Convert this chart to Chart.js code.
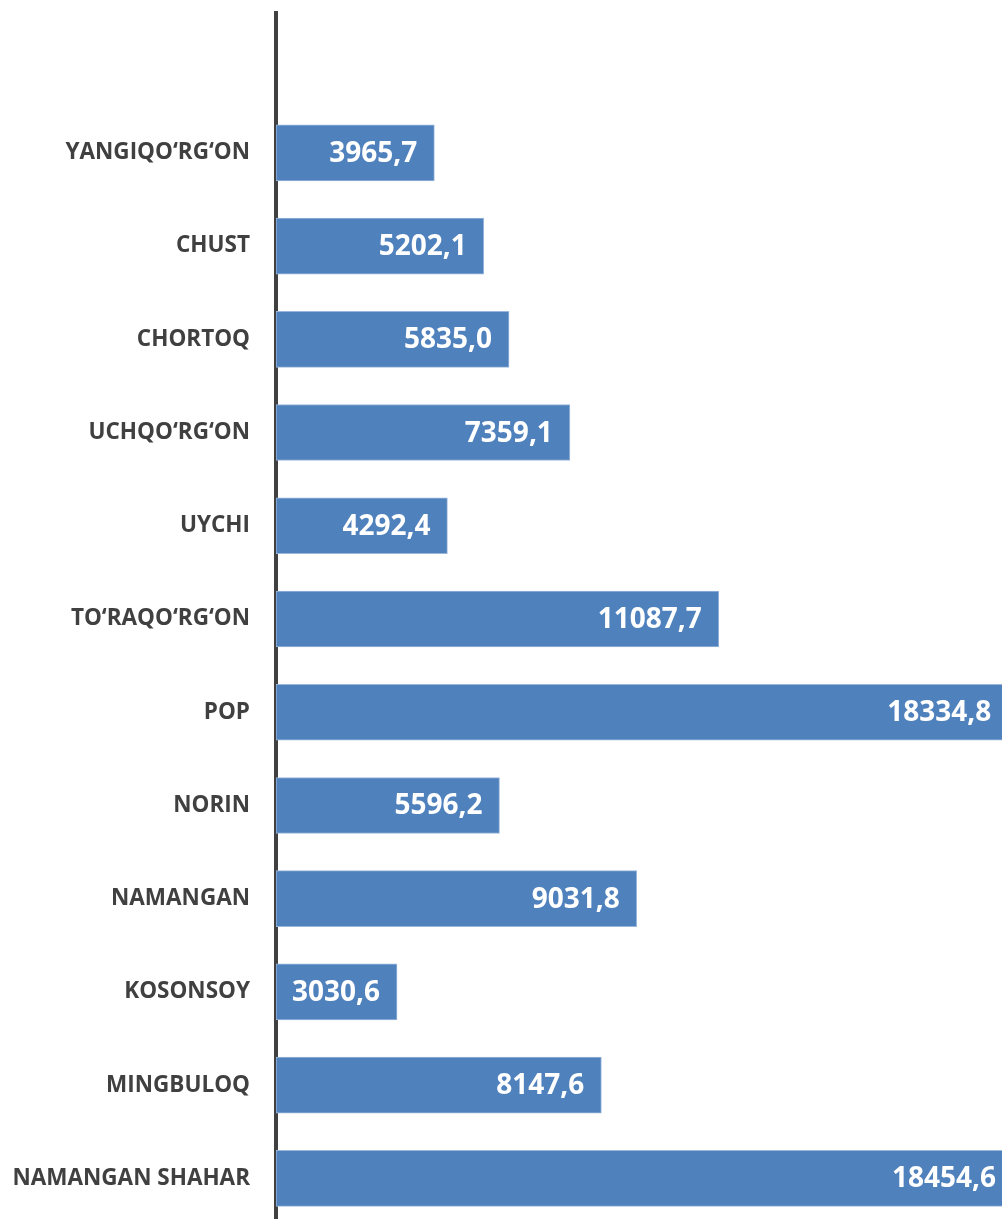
<!DOCTYPE html>
<html lang="uz">
<head>
<meta charset="UTF-8">
<title>Tumanlar kesimida</title>
<script src="https://cdn.jsdelivr.net/npm/chart.js"></script>
<style>
    html, body {
        margin: 0;
        padding: 0;
        background: #ffffff;
        overflow: hidden;
    }
    .frame {
        width: 1002px;
        height: 1219px;
        overflow: hidden;
    }
    .chart-box {
        position: relative;
        width: 1002px;
        height: 1226px;
    }
</style>
</head>
<body>
<div class="frame">
    <div class="chart-box">
        <canvas id="barChart"></canvas>
    </div>
</div>

<script>
    // data, top to bottom (first row is the empty slot above the bars)
    const categories = ['', 'YANGIQO‘RG‘ON', 'CHUST', 'CHORTOQ', 'UCHQO‘RG‘ON', 'UYCHI',
        'TO‘RAQO‘RG‘ON', 'POP', 'NORIN', 'NAMANGAN', 'KOSONSOY', 'MINGBULOQ', 'NAMANGAN SHAHAR'];
    const values = [null, 3965.7, 5202.1, 5835.0, 7359.1, 4292.4,
        11087.7, 18334.8, 5596.2, 9031.8, 3030.6, 8147.6, 18454.6];

    const barColor = '#4F81BD';
    const textColor = '#404040';
    const fontFamily = '"Open Sans", "Noto Sans", sans-serif';

    function fmt(v) {
        return v.toFixed(1).replace('.', ',');
    }

    // white value labels inside the bar ends
    const valueLabels = {
        id: 'valueLabels',
        afterDatasetsDraw(chart) {
            const ctx = chart.ctx;
            const meta = chart.getDatasetMeta(0);
            ctx.save();
            ctx.font = 'bold 28px ' + fontFamily;
            ctx.fillStyle = '#ffffff';
            ctx.textAlign = 'right';
            ctx.textBaseline = 'middle';
            meta.data.forEach((bar, i) => {
                const v = values[i];
                if (v === null) return;
                ctx.fillText(fmt(v), bar.x - 17, bar.y + 1);
            });
            ctx.restore();
        }
    };

    function draw() {
        const ctx = document.getElementById('barChart').getContext('2d');
        new Chart(ctx, {
            type: 'bar',
            data: {
                labels: categories,
                datasets: [{
                    data: values,
                    backgroundColor: barColor,
                    borderColor: '#9AB6DC',
                    borderWidth: 1,
                    borderSkipped: false,
                    barThickness: 56
                }]
            },
            options: {
                indexAxis: 'y',
                responsive: true,
                maintainAspectRatio: false,
                animation: false,
                layout: {
                    padding: { top: 13, bottom: 1, left: 0, right: 0 }
                },
                plugins: {
                    legend: { display: false },
                    tooltip: { enabled: false }
                },
                scales: {
                    x: {
                        display: false,
                        min: 0,
                        max: 18180
                    },
                    y: {
                        z: 1,
                        grid: { display: false },
                        border: { display: true, color: textColor, width: 4 },
                        ticks: {
                            color: textColor,
                            padding: 18,
                            font: { family: fontFamily, size: 22.5, weight: 'bold' }
                        },
                        afterFit(scale) {
                            scale.width = 276;
                            scale.paddingTop = 0;
                            scale.paddingBottom = 0;
                        }
                    }
                }
            },
            plugins: [valueLabels]
        });
    }

    Promise.all([
        document.fonts.load('bold 22px "Open Sans"'),
        document.fonts.load('bold 28px "Open Sans"')
    ]).then(draw, draw);
</script>
</body>
</html>
